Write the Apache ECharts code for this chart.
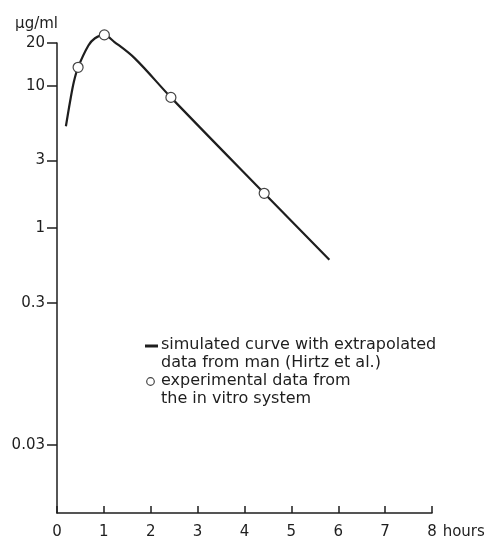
<!DOCTYPE html>
<html>
<head>
<meta charset="utf-8">
<script src="https://cdn.jsdelivr.net/npm/echarts@6/dist/echarts.min.js"></script>
<style>
  html, body { margin: 0; padding: 0; background: #fff; }
  #c1 { width: 491px; height: 541px; }
</style>
</head>
<body>
<div id="c1"></div>
<script>
// simulated curve (hours, µg/ml)
var curveX = [0.19, 0.28, 0.36, 0.45, 0.67, 0.81, 1.0, 1.22, 1.66, 2.43, 4.42, 5.81]
var curveY = [5.2, 7.8, 10.7, 13.5, 19.2, 21.6, 22.8, 20.4, 15.6, 8.3, 1.76, 0.6]
// experimental data from the in vitro system
var expX = [0.45, 1.01, 2.43, 4.42]
var expY = [13.5, 22.8, 8.3, 1.76]
var yTicks = [0.03, 0.3, 1, 3, 10, 20]
var xTicks = [0, 1, 2, 3, 4, 5, 6, 7, 8]
var curveName = 'simulated curve with extrapolated\ndata from man (Hirtz et al.)'
var expName = 'experimental data from\nthe in vitro system'

function pairs(xs, ys) {
    var out = []
    for (var i = 0; i < xs.length; i++) out.push([xs[i], ys[i]])
    return out
}

var font = 'DejaVu Sans'
var ink = '#1e1e1e'

var myChart = echarts.init(document.getElementById('c1'))
myChart.setOption({
    backgroundColor: '#fff',
    animation: false,
    grid: { left: 57, right: 59, top: 43, bottom: 28 },
    xAxis: {
        type: 'value',
        min: 0, max: 8, interval: 1,
        name: 'hours',
        nameLocation: 'end',
        nameGap: 6,
        nameTextStyle: { fontFamily: font, fontSize: 15, color: ink, verticalAlign: 'top', padding: [12, 0, 0, 0] },
        splitLine: { show: false },
        axisLine: { lineStyle: { color: ink, width: 1.5 } },
        axisTick: { inside: true, length: 7, lineStyle: { color: ink, width: 1.5 }, customValues: xTicks },
        axisLabel: { fontFamily: font, fontSize: 15, color: ink, margin: 12, customValues: xTicks }
    },
    yAxis: {
        type: 'log',
        logBase: 10,
        min: 0.01, max: 20,
        name: 'μg/ml',
        nameLocation: 'end',
        nameGap: 11,
        nameTextStyle: { fontFamily: font, fontSize: 15, color: ink, align: 'right', padding: [0, -1, 0, 0] },
        splitLine: { show: false },
        axisLine: { show: true, lineStyle: { color: ink, width: 1.5 } },
        axisTick: { show: true, length: 10, lineStyle: { color: ink, width: 1.5 }, customValues: yTicks },
        axisLabel: { fontFamily: font, fontSize: 15, color: ink, margin: 12, customValues: yTicks,
            formatter: function (v) { return String(v) } }
    },
    graphic: [
        { type: 'line', shape: { x1: 145, y1: 346, x2: 158, y2: 346 }, style: { stroke: ink, lineWidth: 3 } },
        { type: 'circle', shape: { cx: 150.5, cy: 381.5, r: 3.8 }, style: { fill: '#fff', stroke: '#444', lineWidth: 1.2 } },
        { type: 'text', x: 161, y: 336, style: { text: curveName, font: '16px "' + font + '"', fill: ink, lineHeight: 18 } },
        { type: 'text', x: 161, y: 372, style: { text: expName, font: '16px "' + font + '"', fill: ink, lineHeight: 18 } }
    ],
    series: [
        {
            name: curveName,
            type: 'line',
            smooth: 0.35,
            clip: false,
            showSymbol: false,
            lineStyle: { color: ink, width: 2.2 },
            data: pairs(curveX, curveY),
            z: 2
        },
        {
            name: expName,
            type: 'scatter',
            clip: false,
            symbol: 'circle',
            symbolSize: 10,
            itemStyle: { color: '#fff', opacity: 1, borderColor: '#444', borderWidth: 1.2 },
            data: pairs(expX, expY),
            z: 3
        }
    ]
})
</script>
</body>
</html>
